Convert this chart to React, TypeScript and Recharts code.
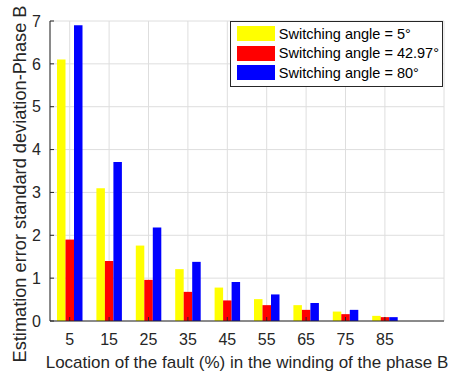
import React from "react";
import { BarChart, Bar, XAxis, YAxis, CartesianGrid } from "recharts";

// fault location along the phase B winding (%)
const locations = [5, 15, 25, 35, 45, 55, 65, 75, 85];
// std-dev of the estimation error for each switching angle
const angle5 = [6.1, 3.1, 1.76, 1.21, 0.78, 0.51, 0.37, 0.22, 0.12];
const angle4297 = [1.9, 1.4, 0.96, 0.68, 0.48, 0.37, 0.26, 0.16, 0.09];
const angle80 = [6.9, 3.71, 2.18, 1.38, 0.91, 0.62, 0.42, 0.26, 0.09];
const yTicks = [0, 1, 2, 3, 4, 5, 6, 7];

const series = [
  { key: "a5", name: "Switching angle = 5°", color: "#ffff00" },
  { key: "a4297", name: "Switching angle = 42.97°", color: "#ff0000" },
  { key: "a80", name: "Switching angle = 80°", color: "#0000ff" },
];

const data = locations.map((loc, i) => ({
  loc,
  a5: angle5[i],
  a4297: angle4297[i],
  a80: angle80[i],
}));

const FONT = "'Liberation Sans', Arial, Helvetica, sans-serif";
const AXIS = "#262626";

// legend box, laid over the upper right corner of the plot
const LegendBox = () => (
  <div
    style={{
      position: "absolute",
      top: 21,
      right: 9,
      background: "#fff",
      border: "1px solid #262626",
      padding: "2px 3px 3px 6px",
      fontFamily: FONT,
      fontSize: 14.5,
      color: "#000",
    }}
  >
    {series.map((s) => (
      <div key={s.key} style={{ display: "flex", alignItems: "center", height: 19.5 }}>
        <div style={{ width: 38, height: 15, background: s.color, marginRight: 4 }} />
        <span style={{ whiteSpace: "nowrap" }}>{s.name}</span>
      </div>
    ))}
  </div>
);

export default function App() {
  return (
    <div style={{ position: "absolute", left: 0, top: 0, width: 452, height: 376, background: "#fff" }}>
      <BarChart
        width={452}
        height={376}
        data={data}
        margin={{ top: 21, right: 8, left: 0, bottom: 0 }}
        barGap={0}
        barSize={8.5}
      >
        <CartesianGrid stroke="#dedede" strokeWidth={1} />
        <XAxis
          dataKey="loc"
          type="number"
          domain={[0, 100]}
          ticks={locations}
          interval={0}
          height={55}
          tickSize={-4}
          tickMargin={17}
          stroke={AXIS}
          tick={{ fill: AXIS, fontSize: 16, fontFamily: FONT }}
          label={{
            value: "Location of the fault (%) in the winding of the phase B",
            position: "insideBottom",
            offset: 8,
            fill: AXIS,
            fontSize: 17,
            fontFamily: FONT,
          }}
        />
        <XAxis
          xAxisId="top"
          orientation="top"
          type="number"
          domain={[0, 100]}
          ticks={locations}
          height={0}
          tickSize={-4}
          stroke={AXIS}
          tickFormatter={() => ""}
        />
        <YAxis
          domain={[0, 7]}
          ticks={yTicks}
          interval={0}
          width={50}
          tickSize={-4}
          tickMargin={13}
          stroke={AXIS}
          tick={{ fill: AXIS, fontSize: 16, fontFamily: FONT }}
          label={{
            value: "Estimation error standard deviation-Phase B",
            angle: -90,
            position: "center",
            dx: -5,
            dy: 13,
            fill: AXIS,
            fontSize: 18.2,
            fontFamily: FONT,
          }}
        />
        <YAxis
          yAxisId="right"
          orientation="right"
          domain={[0, 7]}
          ticks={yTicks}
          width={0}
          tickSize={-4}
          stroke={AXIS}
          tickFormatter={() => ""}
        />
        {series.map((s) => (
          <Bar key={s.key} dataKey={s.key} name={s.name} fill={s.color} isAnimationActive={false} />
        ))}
      </BarChart>
      <LegendBox />
    </div>
  );
}
